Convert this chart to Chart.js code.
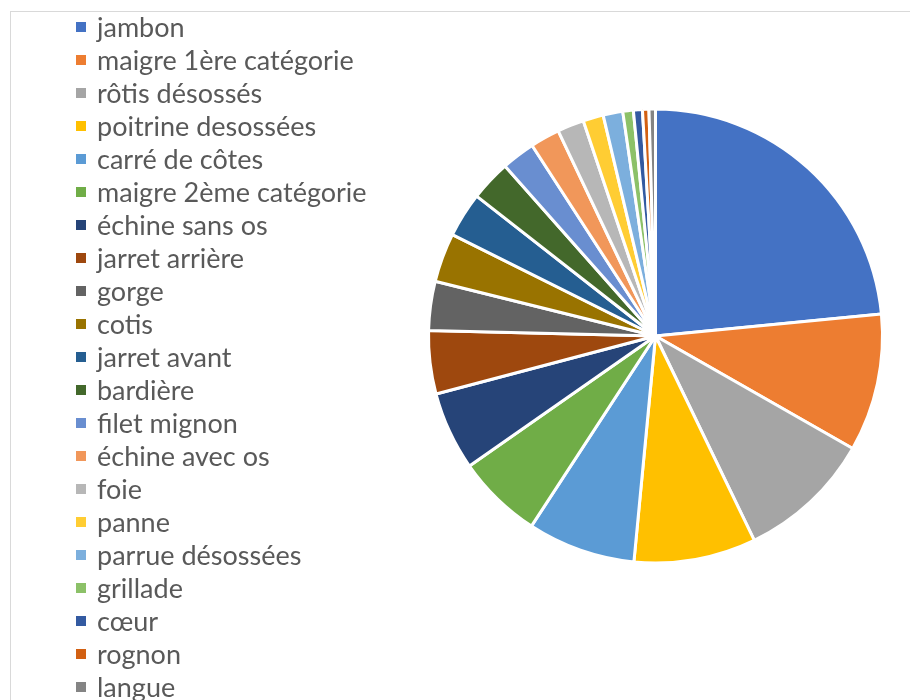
<!DOCTYPE html>
<html>
<head>
<meta charset="utf-8">
<script src="https://cdn.jsdelivr.net/npm/chart.js@4/dist/chart.umd.min.js"></script>
<style>
  html, body { margin: 0; padding: 0; background: #ffffff; overflow: hidden; }
  #page { position: relative; width: 910px; height: 700px; overflow: hidden; }
  #frame { position: absolute; left: 10px; top: 11px; width: 920px; height: 720px; border: 1px solid #d9d9d9; box-sizing: border-box; }
  #wrap { position: absolute; left: 0; top: 0; width: 910px; height: 700px; }
  #legend { position: absolute; left: 76px; top: 10px; margin: 0; padding: 0; list-style: none;
            font-family: Lato, "Liberation Sans", sans-serif; font-size: 27px; color: #595959; }
  #legend li { height: 33px; display: flex; align-items: center; white-space: nowrap; }
  #legend .sw { width: 10px; height: 10px; margin-right: 11px; flex: none; }
</style>
</head>
<body>
<div id="page">
  <div id="frame"></div>
  <div id="wrap"><canvas id="c" width="910" height="700"></canvas></div>
  <ul id="legend"></ul>
</div>
<script>
const categories = ["jambon", "maigre 1ère catégorie", "rôtis désossés", "poitrine desossées", "carré de côtes",
  "maigre 2ème catégorie", "échine sans os", "jarret arrière", "gorge", "cotis", "jarret avant", "bardière",
  "filet mignon", "échine avec os", "foie", "panne", "parrue désossées", "grillade", "cœur", "rognon", "langue"];
const shares = [23.5, 9.8, 9.6, 8.7, 7.7, 6.1, 5.6, 4.5, 3.5, 3.5, 3.2, 2.9, 2.4, 2.1, 1.9, 1.45, 1.4, 0.75, 0.64, 0.46, 0.46];
const colors = ["#4472C4", "#ED7D31", "#A5A5A5", "#FFC000", "#5B9BD5", "#70AD47", "#264478", "#9E480E", "#636363",
  "#997300", "#255E91", "#43682B", "#698ED0", "#F1975A", "#B7B7B7", "#FFCD33", "#7CAFDD", "#8CC168", "#335AA1",
  "#D26012", "#848484"];

const legend = document.getElementById('legend');
categories.forEach((name, i) => {
  const li = document.createElement('li');
  const sw = document.createElement('span');
  sw.className = 'sw';
  sw.style.background = colors[i];
  const tx = document.createElement('span');
  tx.textContent = name;
  li.appendChild(sw);
  li.appendChild(tx);
  legend.appendChild(li);
});

new Chart(document.getElementById('c'), {
  type: 'pie',
  data: {
    labels: categories,
    datasets: [{
      data: shares,
      backgroundColor: colors,
      borderColor: '#ffffff',
      borderWidth: 3
    }]
  },
  options: {
    responsive: false,
    animation: false,
    layout: { padding: { left: 427, right: 26, top: 107.5, bottom: 135.5 } },
    plugins: {
      legend: { display: false },
      tooltip: { enabled: false },
      title: { display: false }
    }
  }
});
</script>
</body>
</html>
